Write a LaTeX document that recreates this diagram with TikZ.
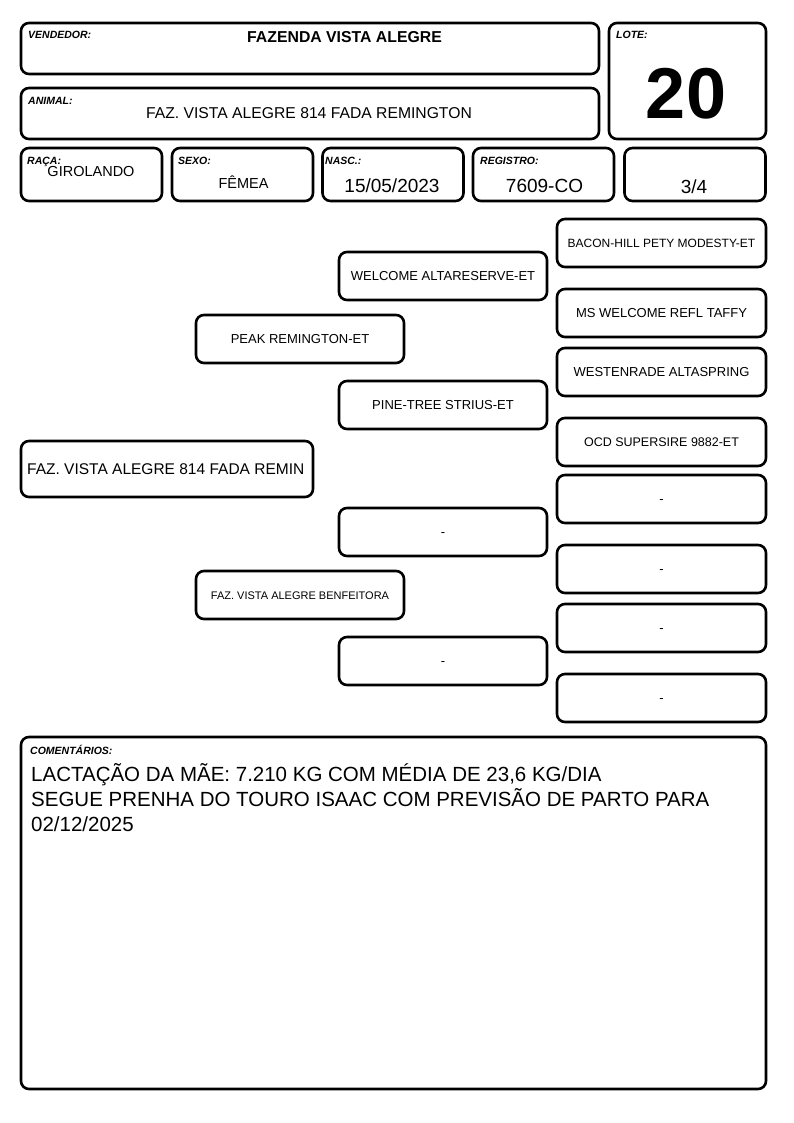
\documentclass[tikz,border=0pt]{standalone}
\usepackage{fontspec}
\setmainfont{Liberation Sans}
\newcommand\fsize[1]{\fontsize{#1}{#1}\selectfont}
\begin{document}
\begin{tikzpicture}[x=1pt, y=-1pt,
  box/.style={draw, rounded corners=8pt, line width=2.6pt, inner sep=0pt},
  lbl/.style={anchor=north west, inner sep=0pt, font=\fsize{10.5}\bfseries\itshape},
  val/.style={anchor=base, inner sep=0pt},
  ped/.style={box, minimum width=208pt, minimum height=48pt, text height=9pt, text depth=0pt, font=\fsize{13}}]
\useasboundingbox (0,0) rectangle (794,1123);
\node[box, minimum width=578pt, minimum height=51pt] (vend) at (310,48.5) {};
\node[box, minimum width=578pt, minimum height=51pt] (anim) at (310,113.5) {};
\node[box, minimum width=157pt, minimum height=116pt] (lote) at (687.5,81) {};
\node[box, minimum width=141pt, minimum height=53pt] (raca) at (91.5,174.5) {};
\node[box, minimum width=141pt, minimum height=53pt] (sexo) at (242.5,174.5) {};
\node[box, minimum width=141pt, minimum height=53pt] (nasc) at (393,174.5) {};
\node[box, minimum width=141pt, minimum height=53pt] (reg) at (543.5,174.5) {};
\node[box, minimum width=141pt, minimum height=53pt] (grau) at (695,174.5) {};
\node[lbl] (vendlbl) at (28,31) {VENDEDOR:};
\node[lbl] (animlbl) at (28,97) {ANIMAL:};
\node[lbl] (lotelbl) at (616,31) {LOTE:};
\node[lbl] (racalbl) at (27,157) {RAÇA:};
\node[lbl] (sexolbl) at (178,157) {SEXO:};
\node[lbl] (nasclbl) at (325,157) {NASC.:};
\node[lbl] (reglbl) at (480,157) {REGISTRO:};
\node[val, font=\fsize{15.8}\bfseries] (vendval) at (344.5,43) {FAZENDA VISTA ALEGRE};
\node[val, font=\fsize{15.7}] (animval) at (309,119) {FAZ. VISTA ALEGRE 814 FADA REMINGTON};
\node[val, font=\fsize{72}\bfseries] (loteval) at (686,119) {20};
\node[val, font=\fsize{14.5}] (racaval) at (91,177) {GIROLANDO};
\node[val, font=\fsize{14.5}] (sexoval) at (243.5,189) {FÊMEA};
\node[val, font=\fsize{19}] (nascval) at (392,193) {15/05/2023};
\node[val, font=\fsize{19}] (regval) at (544.5,193) {7609-CO};
\node[val, font=\fsize{19}] (grauval) at (694,194) {3/4};
\node[box, minimum width=292pt, minimum height=56pt] (filho) at (167,469) {};
\node[anchor=west, inner sep=0pt, font=\fsize{15.5}] (filhotxt) at (27,469) {FAZ. VISTA ALEGRE 814 FADA REMIN};
\node[ped, minimum width=208pt] (pai) at (300,339) {PEAK REMINGTON-ET};
\node[ped, minimum width=208pt, text height=8pt, font=\fsize{11}] (mae) at (300,595) {FAZ. VISTA ALEGRE BENFEITORA};
\node[ped] (avo1) at (443,276) {WELCOME ALTARESERVE-ET};
\node[ped] (avo2) at (443,405) {PINE-TREE STRIUS-ET};
\node[ped] (avo3) at (443,532) {-};
\node[ped] (avo4) at (443,661) {-};
\node[ped, minimum width=209pt, font=\fsize{12}] (bis1) at (661.5,243) {BACON-HILL PETY MODESTY-ET};
\node[ped, minimum width=209pt] (bis2) at (661.5,313) {MS WELCOME REFL TAFFY};
\node[ped, minimum width=209pt] (bis3) at (661.5,372) {WESTENRADE ALTASPRING};
\node[ped, minimum width=209pt, font=\fsize{12.5}] (bis4) at (661.5,442) {OCD SUPERSIRE 9882-ET};
\node[ped, minimum width=209pt] (bis5) at (661.5,499) {-};
\node[ped, minimum width=209pt] (bis6) at (661.5,569) {-};
\node[ped, minimum width=209pt] (bis7) at (661.5,628) {-};
\node[ped, minimum width=209pt] (bis8) at (661.5,698) {-};
\node[box, minimum width=745pt, minimum height=352pt] (coment) at (393.5,913) {};
\node[lbl] (comentlbl) at (30,745) {COMENTÁRIOS:};
\node[anchor=base west, inner sep=0pt, align=left, font=\fontsize{20.5}{25}\selectfont] (comenttxt) at (31,831) {LACTAÇÃO DA MÃE: 7.210 KG COM MÉDIA DE 23,6 KG/DIA\\SEGUE PRENHA DO TOURO ISAAC COM PREVISÃO DE PARTO PARA\\02/12/2025};
\end{tikzpicture}
\end{document}
